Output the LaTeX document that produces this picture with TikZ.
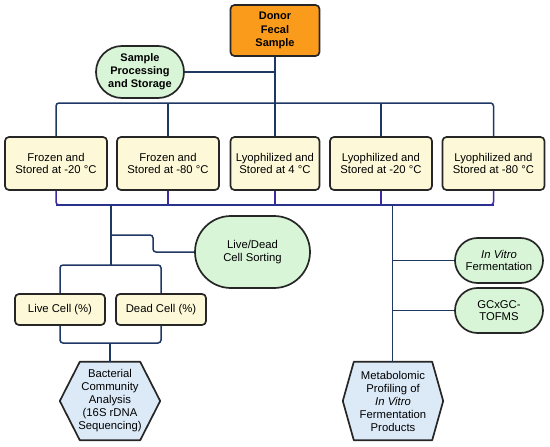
\documentclass[tikz,border=0pt]{standalone}
\usepackage{fontspec}
\setmainfont{Liberation Sans}
\usetikzlibrary{calc,backgrounds}
\definecolor{donorfill}{RGB}{250,155,28}
\definecolor{boxfill}{RGB}{253,249,216}
\definecolor{greenfill}{RGB}{216,245,216}
\definecolor{bluefill}{RGB}{220,234,248}
\definecolor{navy}{RGB}{30,55,100}
\definecolor{purp}{RGB}{62,42,165}
\definecolor{busblue}{RGB}{40,50,140}
\begin{document}
\begin{tikzpicture}[x=1pt,y=-1pt,
  every node/.style={font=\fontsize{11.3}{12.6}\selectfont, align=center, inner sep=1pt},
  donorbox/.style={draw=black!85, line width=1.7pt, rounded corners=4pt, fill=donorfill, minimum width=89pt, minimum height=51pt, font=\fontsize{11}{13.2}\selectfont\bfseries},
  storebox/.style={draw=black!85, line width=1.7pt, rounded corners=4pt, fill=boxfill, minimum width=102pt, minimum height=53pt},
  cellbox/.style={draw=black!85, line width=1.7pt, rounded corners=4pt, fill=boxfill, minimum width=90pt, minimum height=31pt},
  pill/.style={draw=black!85, line width=1.7pt, fill=greenfill},
  hexnode/.style={minimum width=100pt, minimum height=78pt, inner sep=0pt, font=\fontsize{11.3}{13}\selectfont},
  hexdraw/.style={draw=black!85, line width=1.7pt, fill=bluefill, line join=round},
  conn/.style={draw=navy, line width=1.5pt, rounded corners=3pt},
  stub/.style={draw=purp, line width=1.5pt},
  bus/.style={draw=busblue, line width=1.5pt, rounded corners=3pt}
]
\useasboundingbox (0,0) rectangle (550,447);

% nodes
\node[donorbox] (donor) at (275,30.5) {Donor\\Fecal\\Sample};
\node[pill, minimum width=88pt, minimum height=52pt, rounded corners=26pt, font=\fontsize{11}{13}\selectfont\bfseries] (sp) at (140,72) {Sample\\Processing\\and Storage};

\node[storebox] (b1) at (56,163.5) {Frozen and\\Stored at -20 °C};
\node[storebox] (b2) at (168,163.5) {Frozen and\\Stored at -80 °C};
\node[storebox, minimum width=89pt] (b3) at (275,163.5) {Lyophilized and\\Stored at 4 °C};
\node[storebox] (b4) at (381,163.5) {Lyophilized and\\Stored at -20 °C};
\node[storebox] (b5) at (493.5,163.5) {Lyophilized and\\Stored at -80 °C};

\node[pill, minimum width=115pt, minimum height=72pt, rounded corners=36pt] (ld) at (252.5,252) {Live/Dead\\Cell Sorting};
\node[cellbox] (live) at (60,309.5) {Live Cell (\%)};
\node[cellbox] (dead) at (161,309.5) {Dead Cell (\%)};

\node[pill, minimum width=88pt, minimum height=45pt, rounded corners=22.5pt] (vitro) at (499,260.5) {\textit{In Vitro}\\Fermentation};
\node[pill, minimum width=88pt, minimum height=45pt, rounded corners=22.5pt] (gc) at (499,310.5) {GCxGC-\\TOFMS};

\node[hexnode] (bac) at (110,401) {Bacterial\\Community\\Analysis\\(16S rDNA\\Sequencing)};
\node[hexnode] (met) at (393,401) {Metabolomic\\Profiling of\\\textit{In Vitro}\\Fermentation\\Products};

\begin{scope}[on background layer]
\draw[hexdraw] (bac.west) -- ($(bac.north west)+(20,0)$) -- ($(bac.north east)+(-20,0)$) -- (bac.east) -- ($(bac.south east)+(-20,0)$) -- ($(bac.south west)+(20,0)$) -- cycle;
\draw[hexdraw] (met.west) -- ($(met.north west)+(11,0)$) -- ($(met.north east)+(-11,0)$) -- (met.east) -- ($(met.south east)+(-11,0)$) -- ($(met.south west)+(11,0)$) -- cycle;
\end{scope}

% coordinates for bus levels
\coordinate (tb) at (0,103);
\coordinate (bb) at (0,205);
\coordinate (lvl) at (0,265);
\coordinate (br) at (0,235);
\coordinate (brx) at (153,0);
\coordinate (lowlvl) at (0,343);
\coordinate (ldown) at (111,205);
\coordinate (rdown) at (392.5,205);

% top connectors
\draw[conn] (donor.south) -- (b3.north);
\draw[conn] (sp.east) -- (sp.east -| donor.south);
\draw[conn] (b1.north) |- (b5.north |- tb) -- (b5.north);
\draw[conn] (b2.north) -- (b2.north |- tb);
\draw[conn] (b4.north) -- (b4.north |- tb);

% bottom bus
\draw[bus] (b1.south |- bb) -- (b5.south |- bb);
\draw[stub, rounded corners=3pt] (b1.south) -- (b1.south |- bb) -- ++(4,0);
\draw[stub, rounded corners=3pt] (b5.south) -- (b5.south |- bb) -- ++(-4,0);
\draw[stub] (b2.south) -- (b2.south |- bb);
\draw[stub] (b3.south) -- (b3.south |- bb);
\draw[stub] (b4.south) -- (b4.south |- bb);

% left branch
\draw[conn] (ldown) -- (ldown |- lvl);
\draw[conn] (ldown |- br) -- (brx |- br) -- (brx |- ld.west) -- (ld.west);
\draw[conn] (live.north) |- (dead.north |- lvl) -- (dead.north);
\draw[conn] (live.south) |- (dead.south |- lowlvl) -- (dead.south);
\draw[conn] (bac.north |- lowlvl) -- (bac.north);

% right branch
\draw[conn] (rdown) -- (rdown |- met.north);
\draw[conn] (rdown |- vitro.west) -- (vitro.west);
\draw[conn] (rdown |- gc.west) -- (gc.west);
\end{tikzpicture}
\end{document}
